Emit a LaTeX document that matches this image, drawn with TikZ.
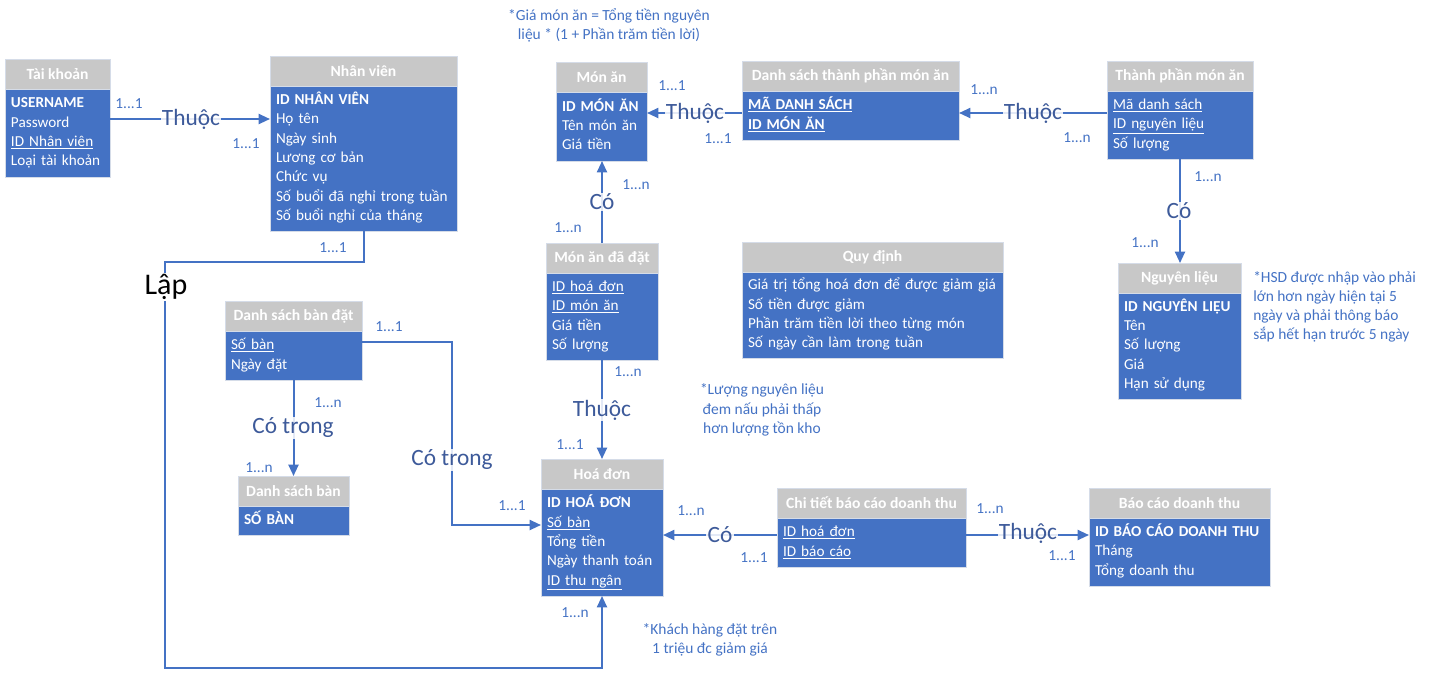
\documentclass[tikz,border=0pt]{standalone}
\usepackage{fontspec}
\setmainfont{Carlito}
\usetikzlibrary{arrows.meta,calc}
\definecolor{eblue}{HTML}{4472C4}
\definecolor{egray}{HTML}{C8C8C8}
\definecolor{lblue}{HTML}{3D5A9A}
\definecolor{bord}{HTML}{D5DCE8}
\tikzset{
 hdr/.style={draw=bord, line width=0.6pt, fill=egray, text=white, font=\fontsize{11.7}{14.6}\selectfont\bfseries, minimum height=22.5pt, inner sep=0pt, outer sep=0pt},
 ebody/.style={draw=bord, line width=0.6pt, fill=eblue, text=white, font=\fontsize{11.4}{14.5}\selectfont, inner xsep=4.5pt, inner ysep=0pt, outer sep=0pt, align=left},
 conn/.style={draw=eblue, line width=1.5pt, -{Triangle[length=8.5pt,width=7.5pt]}},
 rel/.style={fill=white, fill opacity=0.85, text opacity=1, text=lblue, font=\fontsize{17.5}{20}\selectfont, inner sep=1pt},
 lap/.style={fill=white, text=black, font=\fontsize{22.5}{26}\selectfont, inner sep=1pt},
 card/.style={text=eblue, font=\fontsize{11.5}{13}\selectfont, inner sep=0pt},
 note/.style={text=eblue, font=\fontsize{11.6}{14.4}\selectfont, inner sep=0pt},
}
\newcommand\entity[7]{%
 \pgfmathsetmacro\entw{#4*0.75}%
 \pgfmathsetmacro\enth{#5*0.75}%
 \pgfmathsetmacro\entt{(#4-12)*0.75}%
 \node[hdr, minimum width=\entw pt, anchor=north west] (#1-h) at (#2,#3) {#6};
 \node[ebody, minimum width=\entw pt, minimum height=\enth pt, text width=\entt pt, anchor=north west] (#1) at (#1-h.south west) {\begin{tabular}{@{}l@{}}#7\end{tabular}};
}
\begin{document}
\begin{tikzpicture}[x=0.75pt,y=-0.75pt]
\useasboundingbox (0,0) rectangle (1435,672);
% entities
\entity{ta}{5}{59}{105}{88}{Tài khoản}{\textbf{USERNAME}\\ Password\\ \underline{ID Nhân viên}\\ Loại tài khoản}
\entity{nv}{270}{56}{187}{145}{Nhân viên}{\textbf{ID NHÂN VIÊN}\\ Họ tên\\ Ngày sinh\\ Lương cơ bản\\ Chức vụ\\ Số buổi đã nghỉ trong tuần\\ Số buổi nghỉ của tháng}
\entity{ma}{556}{62}{91}{69}{Món ăn}{\textbf{ID MÓN ĂN}\\ Tên món ăn\\ Giá tiền}
\entity{dstp}{742}{61}{217}{49}{Danh sách thành phần món ăn}{\underline{\textbf{MÃ DANH SÁCH}}\\ \underline{\textbf{ID MÓN ĂN}}}
\entity{tp}{1107}{61}{146}{68}{Thành phần món ăn}{\underline{Mã danh sách}\\ \underline{ID nguyên liệu}\\ Số lượng}
\entity{nl}{1118}{263}{123}{106}{Nguyên liệu}{\textbf{ID NGUYÊN LIỆU}\\ Tên\\ Số lượng\\ Giá\\ Hạn sử dụng}
\entity{qd}{742}{242}{261}{86}{Quy định}{Giá trị tổng hoá đơn để được giảm giá\\ Số tiền được giảm\\ Phần trăm tiền lời theo từng món\\ Số ngày cần làm trong tuần}
\entity{mad}{546}{243}{112}{87}{Món ăn đã đặt}{\underline{ID hoá đơn}\\ \underline{ID món ăn}\\ Giá tiền\\ Số lượng}
\entity{dsbd}{225}{301}{137}{49}{Danh sách bàn đặt}{\underline{Số bàn}\\ Ngày đặt}
\entity{dsb}{238}{476}{111}{29}{Danh sách bàn}{\textbf{SỐ BÀN}}
\entity{hd}{541}{459}{122}{107}{Hoá đơn}{\textbf{ID HOÁ ĐƠN}\\ \underline{Số bàn}\\ Tổng tiền\\ Ngày thanh toán\\ \underline{ID thu ngân}}
\entity{ct}{777}{488}{189}{49}{Chi tiết báo cáo doanh thu}{\underline{ID hoá đơn}\\ \underline{ID báo cáo}}
\entity{bc}{1089}{488}{181}{68}{Báo cáo doanh thu}{\textbf{ID BÁO CÁO DOANH THU}\\ Tháng\\ Tổng doanh thu}
% connectors
\coordinate (c1) at ($(ta.north east)+(0,30)$);
\draw[conn] (c1) -- (c1 -| nv.west);
\coordinate (c2) at ($(dstp.north west)+(0,22)$);
\draw[conn] (c2) -- (c2 -| ma.east);
\coordinate (c3) at ($(tp.north west)+(0,22)$);
\draw[conn] (c3) -- (c3 -| dstp.east);
\draw[conn] (tp.south) -- (tp.south |- nl-h.north);
\draw[conn] (mad-h.north) -- (mad-h.north |- ma.south);
\draw[conn] (mad.south) -- (mad.south |- hd-h.north);
\coordinate (c7) at ($(ct.north west)+(0,17)$);
\draw[conn] (c7) -- (c7 -| hd.east);
\coordinate (c8) at ($(ct.north east)+(0,17)$);
\draw[conn] (c8) -- (c8 -| bc.west);
\draw[conn] (dsbd.south) -- (dsbd.south |- dsb-h.north);
\coordinate (c10) at ($(dsbd.north east)+(0,11)$);
\coordinate (t10) at ($(hd.north west)+(0,36)$);
\draw[conn] (c10) -- ++(90,0) |- (t10);
\coordinate (lap1) at (165,262);
\coordinate (lap2) at (165,668);
\draw[conn] (nv.south) |- (lap1) -- (lap2) -| (hd.south);
% relationship labels
\node[rel] (r1) at (191,119) {Thuộc};
\node[rel] (r2) at (695,113) {Thuộc};
\node[rel] (r3) at (1033,113) {Thuộc};
\node[rel] (r4) at (1179,211) {Có};
\node[rel] (r5) at (602,202) {Có};
\node[rel] (r6) at (602,410) {Thuộc};
\node[rel] (r7) at (720,535) {Có};
\node[rel] (r8) at (1028,533) {Thuộc};
\node[rel] (r9) at (293,428) {Có trong};
\node[rel] (r10) at (452,460) {Có trong};
\node[lap] (r11) at (166,287) {Lập};
% cardinalities
\node[card] (k1a) at (129,104) {1...1};
\node[card] (k1b) at (246,144) {1...1};
\node[card] (k2a) at (672,86) {1...1};
\node[card] (k2b) at (718,139) {1...1};
\node[card] (k3a) at (984,90) {1...n};
\node[card] (k3b) at (1077,138) {1...n};
\node[card] (k4a) at (1208,177) {1...n};
\node[card] (k4b) at (1145,243) {1...n};
\node[card] (k5a) at (636,185) {1...n};
\node[card] (k5b) at (568,228) {1...n};
\node[card] (k6a) at (628,372) {1...n};
\node[card] (k6b) at (570,445) {1...1};
\node[card] (k7a) at (691,511) {1...n};
\node[card] (k7b) at (754,558) {1...1};
\node[card] (k8a) at (990,509) {1...n};
\node[card] (k8b) at (1062,556) {1...1};
\node[card] (k9a) at (328,403) {1...n};
\node[card] (k9b) at (259,468) {1...n};
\node[card] (k10a) at (389,327) {1...1};
\node[card] (k10b) at (512,506) {1...1};
\node[card] (k11a) at (333,248) {1...1};
\node[card] (k11b) at (575,613) {1...n};
% notes
\node[note, align=center] (n1) at (609,25) {*Giá món ăn = Tổng tiền nguyên\\ liệu * (1 + Phần trăm tiền lời)};
\node[note, align=left, anchor=west] (n2) at (1253,307) {*HSD được nhập vào phải\\ lớn hơn ngày hiện tại 5\\ ngày và phải thông báo\\ sắp hết hạn trước 5 ngày};
\node[note, align=center] (n3) at (762,410) {*Lượng nguyên liệu\\ đem nấu phải thấp\\ hơn lượng tồn kho};
\node[note, align=center] (n4) at (710,640) {*Khách hàng đặt trên\\ 1 triệu đc giảm giá};
\end{tikzpicture}
\end{document}
